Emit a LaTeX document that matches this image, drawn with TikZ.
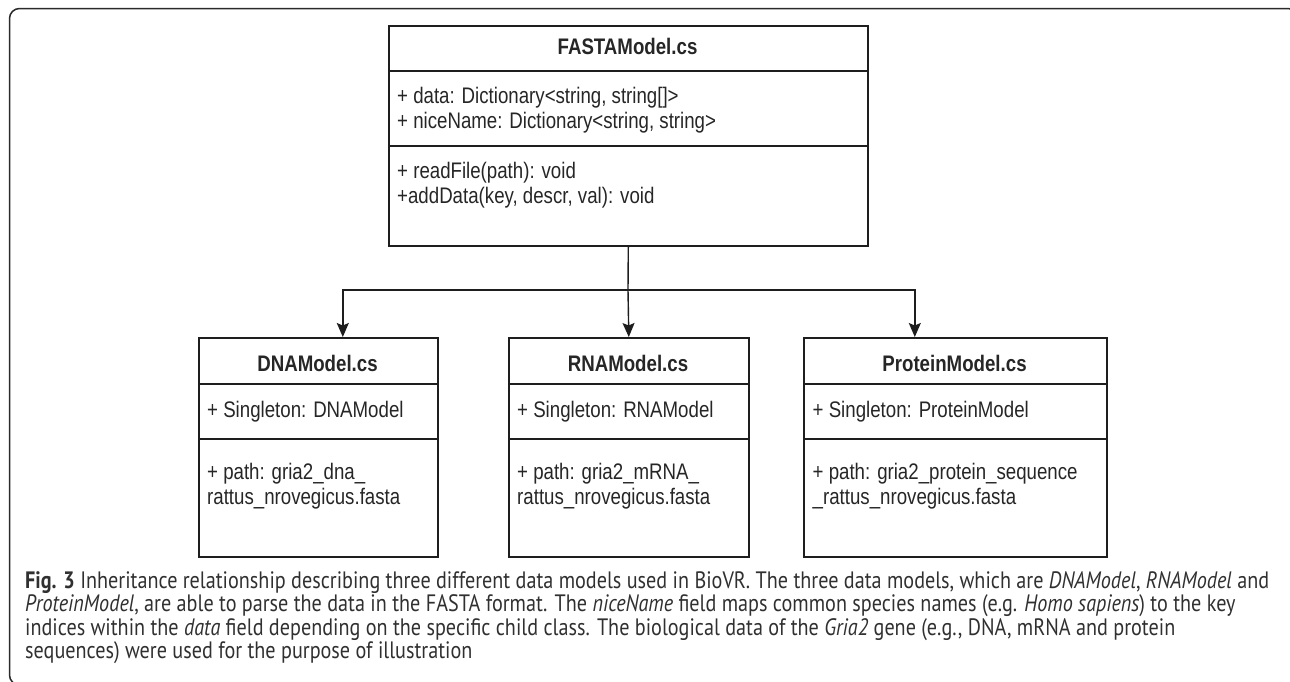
\documentclass[tikz,border=0pt]{standalone}
\usepackage{fontspec}
\setmainfont{Liberation Sans}
\newfontfamily\diagfont[FakeStretch=0.83]{Liberation Sans}
\newfontfamily\capfont[FakeStretch=0.85]{PT Sans}
\usetikzlibrary{arrows.meta}
\definecolor{ink}{HTML}{1E1E1E}
\definecolor{txtink}{HTML}{262626}
\definecolor{capink}{HTML}{303030}
\definecolor{frameink}{HTML}{2A2A2A}
\newlength\capw
\begin{document}
\settowidth\capw{\capfont\fontsize{10pt}{12pt}\selectfont\textbf{Fig. 3} Inheritance relationship describing three different data models used in BioVR. The three data models, which are \textit{DNAModel}, \textit{RNAModel} and}%
\pgfmathsetmacro\capsz{10*1244/\capw}%
\def\capstyle{\capfont\fontsize{\capsz pt}{\capsz pt}\selectfont}%
\begin{tikzpicture}[x=1pt,y=-1pt,
  umlbox/.style={draw=ink, line width=1.6pt, rectangle, inner sep=0pt, anchor=north west},
  divline/.style={draw=ink, line width=1.4pt},
  conn/.style={draw=ink, line width=1.4pt},
  arr/.style={conn, -{Stealth[length=14pt,width=12pt,inset=2.5pt]}},
  boxtitle/.style={anchor=base, inner sep=0pt, text=txtink, font=\diagfont\fontsize{22.5pt}{25pt}\selectfont\bfseries},
  attr/.style={anchor=base west, inner sep=0pt, text=txtink, font=\diagfont\fontsize{22.5pt}{25pt}\selectfont},
  capline/.style={anchor=base west, inner sep=0pt, text=capink, font=\capstyle},
  frame/.style={draw=frameink, line width=1.5pt, rounded corners=10pt}
]
\useasboundingbox (0,0) rectangle (1290,681);
\begin{scope}
\clip (0,0) rectangle (1290,681);
\draw[frame] (9.5,8.5) rectangle (1298,685);
\end{scope}

% parent class
\node[umlbox, minimum width=479pt, minimum height=220pt] (fasta) at (388,25) {};
\draw[divline] (fasta.west |- 0,71) -- (fasta.east |- 0,71);
\draw[divline] (fasta.west |- 0,146) -- (fasta.east |- 0,146);
\node[boxtitle] (fastaT) at (627.5,54) {FASTAModel.cs};
\node[attr] (fastaA1) at (397,103) {+ data: Dictionary<string, string[]>};
\node[attr] (fastaA2) at (397,128) {+ niceName: Dictionary<string, string>};
\node[attr] (fastaM1) at (397,178) {+ readFile(path): void};
\node[attr] (fastaM2) at (397,203) {+addData(key, descr, val): void};

% child classes
\node[umlbox, minimum width=239pt, minimum height=219pt] (dna) at (198,337) {};
\node[umlbox, minimum width=240pt, minimum height=219pt] (rna) at (508,337) {};
\node[umlbox, minimum width=303pt, minimum height=219pt] (prot) at (803,337) {};
\foreach \b in {dna,rna,prot}{
  \draw[divline] (\b.west |- 0,384) -- (\b.east |- 0,384);
  \draw[divline] (\b.west |- 0,439) -- (\b.east |- 0,439);
}
\node[boxtitle] (dnaT) at (317.5,371) {DNAModel.cs};
\node[attr] (dnaA) at (207,417) {+ Singleton: DNAModel};
\node[attr] (dnaP1) at (207,479.5) {+ path: gria2\_dna\_};
\node[attr] (dnaP2) at (207,504) {rattus\_nrovegicus.fasta};

\node[boxtitle] (rnaT) at (628,371) {RNAModel.cs};
\node[attr] (rnaA) at (517,417) {+ Singleton: RNAModel};
\node[attr] (rnaP1) at (517,479.5) {+ path: gria2\_mRNA\_};
\node[attr] (rnaP2) at (517,504) {rattus\_nrovegicus.fasta};

\node[boxtitle] (protT) at (954.5,371) {ProteinModel.cs};
\node[attr] (protA) at (812.5,417) {+ Singleton: ProteinModel};
\node[attr] (protP1) at (812.5,479.5) {+ path: gria2\_protein\_sequence};
\node[attr] (protP2) at (812.5,504) {\_rattus\_nrovegicus.fasta};

% connectors
\coordinate (jn) at (628,290);
\draw[conn] (fasta.south) -- (jn);
\draw[arr] (jn) -| ([xshift=24.5pt]dna.north);
\draw[arr] (jn) -- (rna.north);
\draw[arr] (jn) -| ([xshift=-40.5pt]prot.north);

% caption
\node[capline] (cap1) at (25,588) {\textbf{Fig. 3} Inheritance relationship describing three different data models used in BioVR. The three data models, which are \textit{DNAModel}, \textit{RNAModel} and};
\node[capline] (cap2) at (25,611.5) {\textit{ProteinModel}, are able to parse the data in the FASTA format. The \textit{niceName} field maps common species names (e.g. \textit{Homo sapiens}) to the key};
\node[capline] (cap3) at (25,635) {indices within the \textit{data} field depending on the specific child class. The biological data of the \textit{Gria2} gene (e.g., DNA, mRNA and protein};
\node[capline] (cap4) at (25,658.5) {sequences) were used for the purpose of illustration};
\end{tikzpicture}
\end{document}
